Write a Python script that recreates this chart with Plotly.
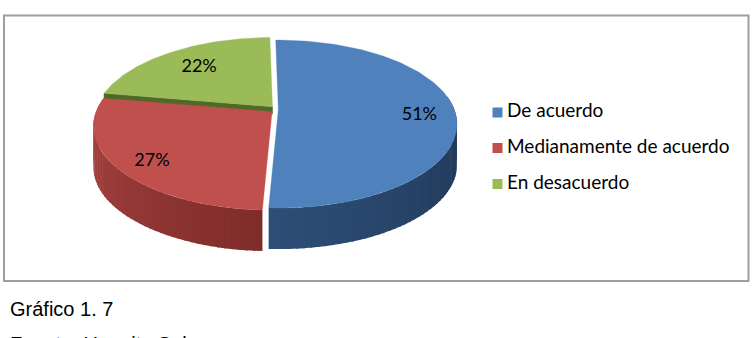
import numpy as np
import plotly.graph_objects as go

# ---------------- data ----------------
categories = ["De acuerdo", "Medianamente de acuerdo", "En desacuerdo"]
values = [51, 27, 22]
value_labels = ["51%", "27%", "22%"]
caption = "Gráfico 1. 7"
source = "Fuente: Unepita Sol"

# ---------------- styles ----------------
top_colors = ["#4F81BD", "#C0504D", "#9BBB59"]
side_right = ["#1D3350", "#7E2C2A", "#4F6A28"]
side_left = ["#2D4E77", "#B04846", "#56702C"]
wall_colors = ["#2C4C74", "#8E3432", "#4F6A28"]
label_radius = [0.8, 0.8, 0.7]
label_dy = [5, 5, 0]

W, H = 756, 338
CX, CY = 274.8, 109.5          # projected pie centre (px)
RX, A, K = 176.0, 81.5, 0.173  # horizontal radius, vertical scale, perspective
ROT = -1.0                     # first slice angle (deg)
DEPTH = 41
WALL_DEPTH = 7
EXPLODE = 3.5


def proj(X, Z, off, h=0.0):
    d = 1 + K * Z
    return CX + off[0] + RX * X / d, CY + off[1] - A * Z / d + h


def hex2rgb(h):
    h = h.lstrip("#")
    return np.array([int(h[i:i + 2], 16) for i in (0, 2, 4)], dtype=float)


def lerp_color(c1, c2, t):
    c = hex2rgb(c1) * (1 - t) + hex2rgb(c2) * t
    return "rgb(%d,%d,%d)" % tuple(np.round(c).astype(int))


vals = np.array(values, dtype=float)
bounds = ROT + np.concatenate([[0], np.cumsum(vals / vals.sum() * 360.0)])

fig = go.Figure()
walls, sides, tops, label_pts = [], [], [], []

for i in range(len(values)):
    a0, a1 = bounds[i], bounds[i + 1]
    m = np.radians((a0 + a1) / 2)
    off = (EXPLODE * np.sin(m), -EXPLODE * np.cos(m))
    cxp, cyp = proj(0, 0, off)

    # radial walls that face the viewer
    for ang, nrm in ((a0, a0 - 90), (a1, a1 + 90)):
        if np.cos(np.radians(nrm)) < -0.3:
            t = np.radians(ang)
            rx_, ry_ = proj(np.sin(t), np.cos(t), off)
            xs = [cxp, rx_, rx_, cxp, cxp]
            ys = [cyp, ry_, ry_ + WALL_DEPTH, cyp + WALL_DEPTH, cyp]
            walls.append((xs, ys, wall_colors[i]))

    # outer side (visible near portion only)
    lo, hi = max(a0, 80.0), min(a1, 280.0)
    if hi > lo:
        n = max(2, int(np.ceil((hi - lo) / 2.0)))
        angs = np.linspace(lo, hi, n + 1)
        for j in range(n):
            t1 = np.radians(angs[j])
            t2 = np.radians(min(angs[j + 1] + 0.6, hi))
            x1, y1 = proj(np.sin(t1), np.cos(t1), off)
            x2, y2 = proj(np.sin(t2), np.cos(t2), off)
            tt = ((angs[j] + angs[j + 1]) / 2 - lo) / (hi - lo)
            col = lerp_color(side_right[i], side_left[i], tt)
            zmid = np.cos((t1 + t2) / 2)
            sides.append((zmid, [x1, x2, x2, x1, x1],
                          [y1, y2, y2 + DEPTH, y1 + DEPTH, y1], col))

    # top face
    angs = np.radians(np.linspace(a0, a1, 120))
    px, py = proj(np.sin(angs), np.cos(angs), off)
    tops.append(([cxp] + list(px) + [cxp], [cyp] + list(py) + [cyp], top_colors[i]))

    r = label_radius[i]
    lx, ly = proj(r * np.sin(m), r * np.cos(m), off)
    label_pts.append((lx, ly + label_dy[i]))

for xs, ys, col in walls:
    fig.add_trace(go.Scatter(x=xs, y=ys, fill="toself", fillcolor=col, mode="lines",
                             line=dict(color=col, width=0.5), hoverinfo="skip", showlegend=False))
for z, xs, ys, col in sorted(sides, key=lambda s: -s[0]):
    fig.add_trace(go.Scatter(x=xs, y=ys, fill="toself", fillcolor=col, mode="lines",
                             line=dict(color=col, width=0), hoverinfo="skip", showlegend=False))
for xs, ys, col in tops:
    fig.add_trace(go.Scatter(x=xs, y=ys, fill="toself", fillcolor=col, mode="lines",
                             line=dict(color=col, width=0.3), hoverinfo="skip", showlegend=False))

# percentage labels
fig.add_trace(go.Scatter(x=[p[0] for p in label_pts], y=[p[1] for p in label_pts],
                         mode="text", text=value_labels,
                         textfont=dict(family="Lato", size=18, color="#000000"),
                         hoverinfo="skip", showlegend=False))

# legend (drawn on the pixel axes)
LEG_X = 497.5
LEG_Y = [112.5, 148.0, 184.0]
fig.add_trace(go.Scatter(x=[LEG_X] * 3, y=LEG_Y, mode="markers",
                         marker=dict(symbol="square", size=10, color=top_colors),
                         hoverinfo="skip", showlegend=False))
fig.add_trace(go.Scatter(x=[LEG_X + 9.5] * 3, y=LEG_Y, mode="text", text=categories,
                         textposition="middle right",
                         textfont=dict(family="Lato", size=19, color="#000000"),
                         hoverinfo="skip", showlegend=False))

fig.update_layout(
    width=W, height=H, margin=dict(l=0, r=0, t=0, b=0),
    paper_bgcolor="white", plot_bgcolor="white",
    xaxis=dict(range=[0, W], visible=False, fixedrange=True),
    yaxis=dict(range=[H, 0], visible=False, fixedrange=True),
    shapes=[dict(type="rect", xref="x", yref="y", x0=4, y0=15.5, x1=748.5, y1=281,
                 line=dict(color="#9E9E9E", width=2), layer="below")],
    annotations=[
        dict(x=8, y=309, xref="x", yref="y", text=caption, showarrow=False,
             xanchor="left", yanchor="middle",
             font=dict(family="Liberation Sans", size=20, color="#000000")),
        dict(x=8, y=331, xref="x", yref="y", text=source, showarrow=False,
             xanchor="left", yanchor="top",
             font=dict(family="Liberation Sans", size=20, color="#000000")),
    ],
)

fig.write_html("out.html")
